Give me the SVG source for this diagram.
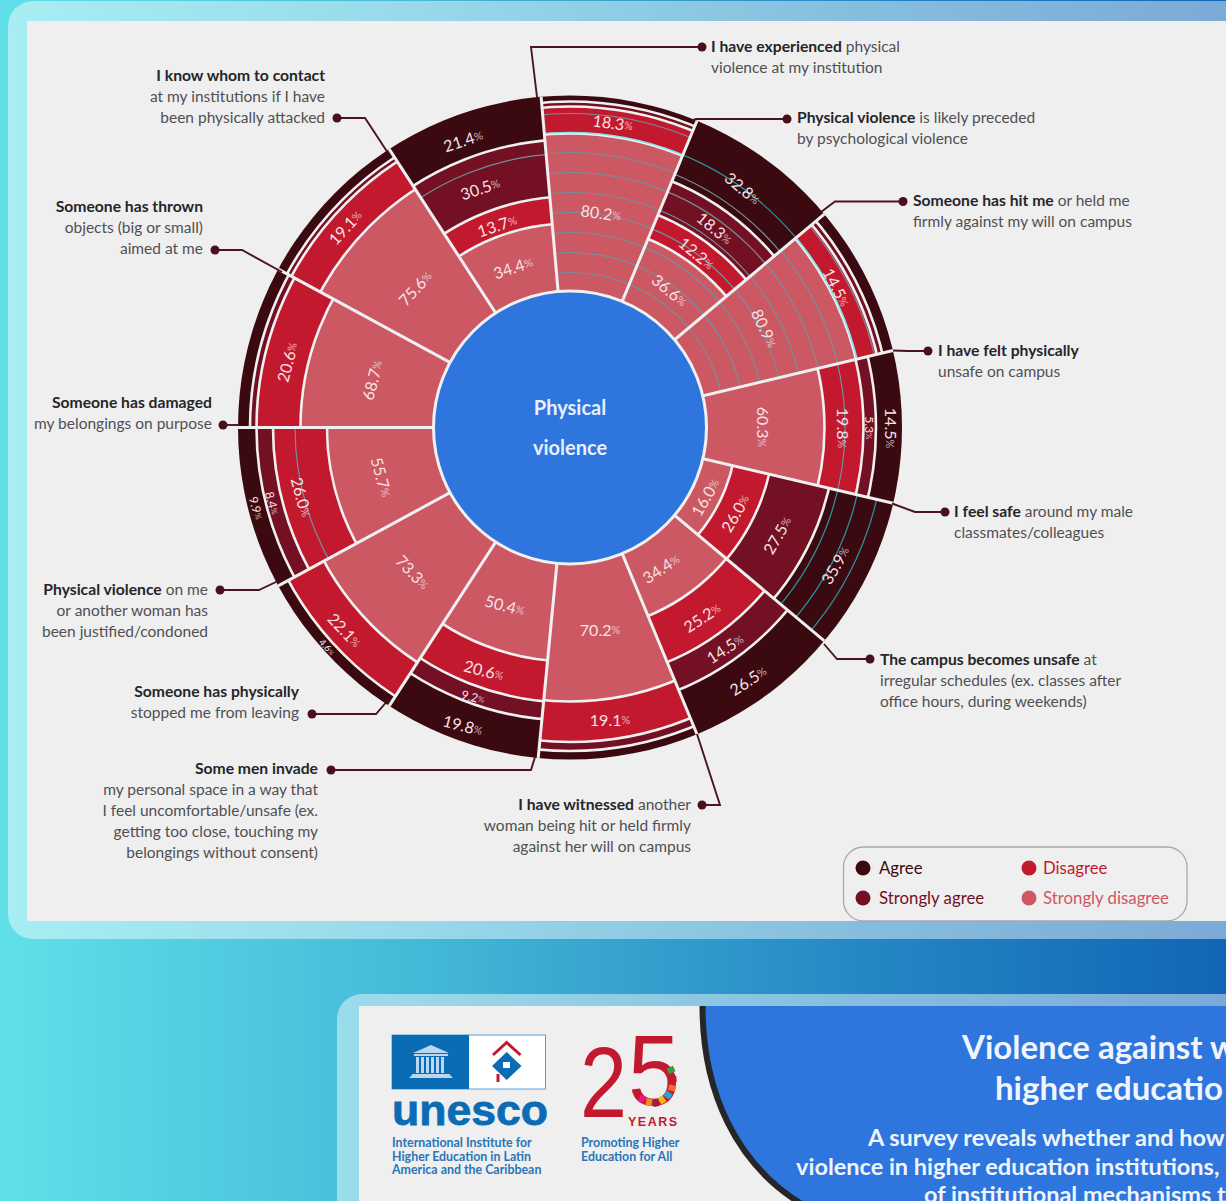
<svg xmlns="http://www.w3.org/2000/svg" width="1226" height="1201" viewBox="0 0 1226 1201">
<style>
text{font-family:Lato,"Open Sans","Liberation Sans",sans-serif}
.t{font-size:15.5px;fill:#505054}
.t tspan.b{font-weight:700;fill:#25252a;font-size:15.7px}
.e{text-anchor:end}
.A{fill:#3a0a10}
.S{fill:#741023;stroke:#f0f0f0;stroke-width:2.6}
.D{fill:#c3192e;stroke:#f0f0f0;stroke-width:2.6}
.P{fill:#cc5864;stroke:#f0f0f0;stroke-width:2.6}
.g{fill:none;stroke:#74909c;stroke-width:1.2}
.c{fill:none;stroke:#7ce6ea;stroke-width:1.6}
.k{fill:none;stroke:#2c8f95;stroke-width:1.3}
.p{font-size:16px;fill:#f6e3e4;text-anchor:middle;dominant-baseline:central}
.s{font-size:12px}
.x{font-size:9.5px}
.p tspan{font-size:.68em;opacity:.72}
.l{fill:none;stroke:#4a1420;stroke-width:1.9}
.d{fill:#4a0f1c}
.lg{font-size:16.8px}
</style>
<defs>
<linearGradient id="bg" x1="0" y1="0" x2="1226" y2="0" gradientUnits="userSpaceOnUse">
<stop offset="0" stop-color="#60e0e8"/><stop offset=".35" stop-color="#44b8d8"/><stop offset=".7" stop-color="#2488c4"/><stop offset="1" stop-color="#1165b6"/>
</linearGradient>
<clipPath id="tp"><rect x="359" y="1006" width="867" height="195"/></clipPath>
<clipPath id="w1"><polygon points="0,0 -39.2,-448.3 172.2,-415.8"/></clipPath>
<clipPath id="w2"><polygon points="0,0 172.2,-415.8 344.7,-289.3"/></clipPath>
<clipPath id="w3"><polygon points="0,0 344.7,-289.3 437.8,-104.3"/></clipPath>
<clipPath id="w4"><polygon points="0,0 437.8,-104.3 438.1,102.8"/></clipPath>
<clipPath id="w5"><polygon points="0,0 438.1,102.8 344.7,289.3"/></clipPath>
<clipPath id="w6"><polygon points="0,0 344.7,289.3 172.2,415.8"/></clipPath>
<clipPath id="w7"><polygon points="0,0 172.2,415.8 -43.1,447.9"/></clipPath>
<clipPath id="w8"><polygon points="0,0 -43.1,447.9 -245.1,377.4"/></clipPath>
<clipPath id="w9"><polygon points="0,0 -245.1,377.4 -395.5,214.7"/></clipPath>
<clipPath id="w10"><polygon points="0,0 -395.5,214.7 -450,0"/></clipPath>
<clipPath id="w11"><polygon points="0,0 -450,0 -395.5,-214.7"/></clipPath>
<clipPath id="w12"><polygon points="0,0 -395.5,-214.7 -245.1,-377.4"/></clipPath>
<clipPath id="w13"><polygon points="0,0 -245.1,-377.4 -39.2,-448.3"/></clipPath>
</defs>

<rect width="1226" height="1201" fill="url(#bg)"/>
<rect x="8" y="1" width="1250" height="938" rx="25" fill="#fff" fill-opacity=".45"/>
<rect x="27" y="21" width="1199" height="900" fill="#efefef"/>
<rect x="337" y="994" width="920" height="240" rx="25" fill="#fff" fill-opacity=".45"/>
<rect x="359" y="1006" width="867" height="195" fill="#efefef"/>

<g id="node-experienced">
<g clip-path="url(#w1)" transform="translate(570 427.5)">
<circle r="332" class="A"/><circle r="326" class="S"/><circle r="321" class="D"/><circle r="294" class="P"/>
<circle r="155" class="g"/><circle r="175" class="g"/><circle r="195" class="g"/><circle r="215" class="g"/><circle r="235" class="g"/><circle r="255" class="g"/><circle r="275" class="g"/><circle r="295" class="c"/><circle r="314" class="g"/>
</g>
<text class="p" transform="translate(613 122.500) rotate(8)">18.3<tspan>%</tspan></text>
<text class="p" transform="translate(601 212.500) rotate(8)">80.2<tspan>%</tspan></text>
<text class="t" x="711" y="52"><tspan class="b">I have experienced</tspan> physical</text>
<text class="t" x="711" y="73">violence at my institution</text>
</g>

<g id="node-psychological">
<g clip-path="url(#w2)" transform="translate(570 427.5)">
<circle r="332" class="A"/><circle r="266.500" class="S"/><circle r="230" class="D"/><circle r="204" class="P"/>
<circle r="155" class="g"/><circle r="175" class="g"/><circle r="195" class="g"/><circle r="215" class="g"/><circle r="235" class="g"/><circle r="255" class="g"/><circle r="274" class="g"/><circle r="295" class="k"/>
</g>
<text class="p" transform="translate(743 188) rotate(40)">32.8<tspan>%</tspan></text>
<text class="p" transform="translate(715 228) rotate(40)">18.3<tspan>%</tspan></text>
<text class="p" transform="translate(697 253) rotate(40)">12.2<tspan>%</tspan></text>
<text class="p" transform="translate(670 290) rotate(40)">36.6<tspan>%</tspan></text>
<text class="t" x="797" y="123"><tspan class="b">Physical violence</tspan> is likely preceded</text>
<text class="t" x="797" y="144">by psychological violence</text>
</g>

<g id="node-hit">
<g clip-path="url(#w3)" transform="translate(570 427.5)">
<circle r="332" class="A"/><circle r="321" class="S"/><circle r="315.500" class="D"/><circle r="294" class="P"/>
<circle r="155" class="g"/><circle r="175" class="g"/><circle r="195" class="g"/><circle r="215" class="g"/><circle r="235" class="g"/><circle r="255" class="g"/><circle r="275" class="g"/><circle r="295" class="c"/><circle r="313" class="g"/>
</g>
<text class="p" transform="translate(837 287) rotate(63)">14.5<tspan>%</tspan></text>
<text class="p" transform="translate(765 328) rotate(65)">80.9<tspan>%</tspan></text>
<text class="t" x="913" y="206"><tspan class="b">Someone has hit me</tspan> or held me</text>
<text class="t" x="913" y="227">firmly against my will on campus</text>
</g>

<g id="node-felt-unsafe">
<g clip-path="url(#w4)" transform="translate(570 427.5)">
<circle r="332" class="A"/><circle r="306" class="S"/><circle r="293.500" class="D"/><circle r="254.500" class="P"/>
<circle r="275" class="g"/>
</g>
<text class="p" transform="translate(891 428) rotate(90)">14.5<tspan>%</tspan></text>
<text class="p s" transform="translate(869 428) rotate(90)">5.3<tspan>%</tspan></text>
<text class="p" transform="translate(843 428) rotate(90)">19.8<tspan>%</tspan></text>
<text class="p" transform="translate(763 427) rotate(90)">60.3<tspan>%</tspan></text>
<text class="t" x="938" y="356"><tspan class="b">I have felt physically</tspan></text>
<text class="t" x="938" y="377">unsafe on campus</text>
</g>

<g id="node-feel-safe">
<g clip-path="url(#w5)" transform="translate(570 427.5)">
<circle r="332" class="A"/><circle r="266" class="S"/><circle r="204.500" class="D"/><circle r="167" class="P"/>
<circle r="275" class="k"/><circle r="295" class="k"/><circle r="315" class="k"/>
</g>
<text class="p" transform="translate(835 565) rotate(-60)">35.9<tspan>%</tspan></text>
<text class="p" transform="translate(777 535) rotate(-60)">27.5<tspan>%</tspan></text>
<text class="p" transform="translate(735 513) rotate(-60)">26.0<tspan>%</tspan></text>
<text class="p" transform="translate(705 497) rotate(-60)">16.0<tspan>%</tspan></text>
<text class="t" x="954" y="517"><tspan class="b">I feel safe</tspan> around my male</text>
<text class="t" x="954" y="538">classmates/colleagues</text>
</g>

<g id="node-irregular">
<g clip-path="url(#w6)" transform="translate(570 427.5)">
<circle r="332" class="A"/><circle r="284" class="S"/><circle r="254" class="D"/><circle r="204" class="P"/>
</g>
<text class="p" transform="translate(748 680) rotate(-33)">26.5<tspan>%</tspan></text>
<text class="p" transform="translate(725 648) rotate(-33)">14.5<tspan>%</tspan></text>
<text class="p" transform="translate(702 617) rotate(-33)">25.2<tspan>%</tspan></text>
<text class="p" transform="translate(661 568) rotate(-33)">34.4<tspan>%</tspan></text>
<text class="t" x="880" y="665"><tspan class="b">The campus becomes unsafe</tspan> at</text>
<text class="t" x="880" y="686">irregular schedules (ex. classes after</text>
<text class="t" x="880" y="707">office hours, during weekends)</text>
</g>

<g id="node-witnessed">
<g clip-path="url(#w7)" transform="translate(570 427.5)">
<circle r="332" class="A"/><circle r="323.500" class="S"/><circle r="314.500" class="D"/><circle r="274" class="P"/>
</g>
<text class="p" transform="translate(610 719)">19.1<tspan>%</tspan></text>
<text class="p" transform="translate(600 629)">70.2<tspan>%</tspan></text>
<text class="t e" x="691" y="810"><tspan class="b">I have witnessed</tspan> another</text>
<text class="t e" x="691" y="831">woman being hit or held firmly</text>
<text class="t e" x="691" y="852">against her will on campus</text>
</g>

<g id="node-invade">
<g clip-path="url(#w8)" transform="translate(570 427.5)">
<circle r="332" class="A"/><circle r="293" class="S"/><circle r="275" class="D"/><circle r="234" class="P"/>
</g>
<text class="p" transform="translate(463 725) rotate(15)">19.8<tspan>%</tspan></text>
<text class="p s" transform="translate(473 697) rotate(15)">9.2<tspan>%</tspan></text>
<text class="p" transform="translate(484 670) rotate(15)">20.6<tspan>%</tspan></text>
<text class="p" transform="translate(505 605) rotate(15)">50.4<tspan>%</tspan></text>
<text class="t e" x="318" y="774"><tspan class="b">Some men invade</tspan></text>
<text class="t e" x="318" y="795">my personal space in a way that</text>
<text class="t e" x="318" y="816">I feel uncomfortable/unsafe (ex.</text>
<text class="t e" x="318" y="837">getting too close, touching my</text>
<text class="t e" x="318" y="858">belongings without consent)</text>
</g>

<g id="node-stopped">
<g clip-path="url(#w9)" transform="translate(570 427.5)">
<circle r="332" class="A"/><circle r="320.500" class="D"/><circle r="280" class="P"/>
</g>
<text class="p x" transform="translate(327 647) rotate(47)">4.6<tspan>%</tspan></text>
<text class="p" transform="translate(345 630) rotate(47)">22.1<tspan>%</tspan></text>
<text class="p" transform="translate(413 572) rotate(47)">73.3<tspan>%</tspan></text>
<text class="t e" x="299" y="697"><tspan class="b">Someone has physically</tspan></text>
<text class="t e" x="299" y="718">stopped me from leaving</text>
</g>

<g id="node-justified">
<g clip-path="url(#w10)" transform="translate(570 427.5)">
<circle r="332" class="A"/><circle r="313.500" class="S"/><circle r="297" class="D"/><circle r="243" class="P"/>
<circle r="275" class="g"/>
</g>
<text class="p s" transform="translate(256 508) rotate(75)">9.9<tspan>%</tspan></text>
<text class="p s" transform="translate(272 503) rotate(75)">8.4<tspan>%</tspan></text>
<text class="p" transform="translate(302 497) rotate(75)">26.0<tspan>%</tspan></text>
<text class="p" transform="translate(382 477) rotate(75)">55.7<tspan>%</tspan></text>
<text class="t e" x="208" y="595"><tspan class="b">Physical violence</tspan> on me</text>
<text class="t e" x="208" y="616">or another woman has</text>
<text class="t e" x="208" y="637">been justified/condoned</text>
</g>

<g id="node-damaged">
<g clip-path="url(#w11)" transform="translate(570 427.5)">
<circle r="332" class="A"/><circle r="320" class="S"/><circle r="313.500" class="D"/><circle r="269.500" class="P"/>
</g>
<text class="p" transform="translate(287 362) rotate(-75)">20.6<tspan>%</tspan></text>
<text class="p" transform="translate(372 380) rotate(-75)">68.7<tspan>%</tspan></text>
<text class="t e" x="212" y="408"><tspan class="b">Someone has damaged</tspan></text>
<text class="t e" x="212" y="429">my belongings on purpose</text>
</g>

<g id="node-thrown">
<g clip-path="url(#w12)" transform="translate(570 427.5)">
<circle r="332" class="A"/><circle r="322" class="S"/><circle r="317" class="D"/><circle r="284" class="P"/>
</g>
<text class="p" transform="translate(345 227) rotate(-47)">19.1<tspan>%</tspan></text>
<text class="p" transform="translate(415 288) rotate(-47)">75.6<tspan>%</tspan></text>
<text class="t e" x="203" y="212"><tspan class="b">Someone has thrown</tspan></text>
<text class="t e" x="203" y="233">objects (big or small)</text>
<text class="t e" x="203" y="254">aimed at me</text>
</g>

<g id="node-contact">
<g clip-path="url(#w13)" transform="translate(570 427.5)">
<circle r="332" class="A"/><circle r="288" class="S"/><circle r="231" class="D"/><circle r="204" class="P"/>
<circle r="274" class="g"/>
</g>
<text class="p" transform="translate(463 140) rotate(-18)">21.4<tspan>%</tspan></text>
<text class="p" transform="translate(480 188) rotate(-18)">30.5<tspan>%</tspan></text>
<text class="p" transform="translate(497 225) rotate(-18)">13.7<tspan>%</tspan></text>
<text class="p" transform="translate(513 267) rotate(-18)">34.4<tspan>%</tspan></text>
<text class="t e" x="325" y="81"><tspan class="b">I know whom to contact</tspan></text>
<text class="t e" x="325" y="102">at my institutions if I have</text>
<text class="t e" x="325" y="123">been physically attacked</text>
</g>

<g id="spokes" transform="translate(570 427.5)" fill="none" stroke="#f0f0f0" stroke-width="3">
<path d="M0 0L-28.9 -330.7M0 0L127 -306.8M0 0L254.3 -213.4M0 0L323 -77M0 0L323.2 75.8M0 0L254.3 213.4M0 0L127 306.8M0 0L-31.800 330.500M0 0L-180.800 278.400M0 0L-291.800 158.400M0 0L-332 0M0 0L-291.800 -158.400M0 0L-180.800 -278.400"/>
</g>

<g id="node-center">
<circle cx="570" cy="427.500" r="136.500" fill="#2e75de" stroke="#f0f0f0" stroke-width="3"/>
<text x="570" y="415" text-anchor="middle" font-size="20" font-weight="700" fill="#e8f0fb">Physical</text>
<text x="570" y="455" text-anchor="middle" font-size="20" font-weight="700" fill="#e8f0fb">violence</text>
</g>

<g id="connectors">
<path class="l" d="M702 47H531L537 97"/><circle class="d" cx="702" cy="47" r="4.500"/>
<path class="l" d="M787 119H696L692 120.500"/><circle class="d" cx="787" cy="119" r="4.500"/>
<path class="l" d="M903 201.500H835L821 212"/><circle class="d" cx="903" cy="201.500" r="4.500"/>
<path class="l" d="M928 351H908L893 350.500"/><circle class="d" cx="928" cy="351" r="4.500"/>
<path class="l" d="M945 512H915L892 503.500"/><circle class="d" cx="945" cy="512" r="4.500"/>
<path class="l" d="M870 659H837L824 644"/><circle class="d" cx="870" cy="659" r="4.500"/>
<path class="l" d="M702 805H720L697 734"/><circle class="d" cx="702" cy="805" r="4.500"/>
<path class="l" d="M331 770H531L535 757"/><circle class="d" cx="331" cy="770" r="4.500"/>
<path class="l" d="M312 714H376L389 699"/><circle class="d" cx="312" cy="714" r="4.500"/>
<path class="l" d="M220 590H259L278 581"/><circle class="d" cx="220" cy="590" r="4.500"/>
<path class="l" d="M223 425H238"/><circle class="d" cx="223" cy="425" r="4.500"/>
<path class="l" d="M215 250H242L282 272"/><circle class="d" cx="215" cy="250" r="4.500"/>
<path class="l" d="M337 118H365L388 153"/><circle class="d" cx="337" cy="118" r="4.500"/>
</g>

<g id="legend">
<rect x="843.500" y="847" width="343.500" height="74" rx="20" fill="#efefef" stroke="#a8a8aa" stroke-width="1.300"/>
<circle cx="863" cy="868" r="7.500" fill="#3a0a10"/><text class="lg" x="879" y="874" fill="#3a0a10">Agree</text>
<circle cx="863" cy="898" r="7.500" fill="#741023"/><text class="lg" x="879" y="903.500" fill="#741023">Strongly agree</text>
<circle cx="1029" cy="868" r="7.500" fill="#c3192e"/><text class="lg" x="1043" y="874" fill="#c3192e">Disagree</text>
<circle cx="1029" cy="898" r="7.500" fill="#cc5864"/><text class="lg" x="1043" y="903.500" fill="#cc5864">Strongly disagree</text>
</g>

<g id="unesco-logo">
<rect x="392" y="1035" width="153.500" height="54" fill="#fff" stroke="#5c9ed2" stroke-width="1"/>
<rect x="392" y="1035" width="77" height="54" fill="#0a6cb5"/>
<g fill="#b9d7ee">
<polygon points="413,1053 431,1045 449,1053"/><rect x="414" y="1054" width="34" height="2"/>
<rect x="416" y="1057" width="3" height="16"/><rect x="421" y="1057" width="3" height="16"/><rect x="426" y="1057" width="3" height="16"/><rect x="431" y="1057" width="3" height="16"/><rect x="436" y="1057" width="3" height="16"/><rect x="441" y="1057" width="3" height="16"/>
<rect x="412" y="1074" width="38" height="2"/><polygon points="409,1078 453,1078 450,1075 412,1075"/>
</g>
<path d="M493 1055L506.700 1042.500L520.500 1055" fill="none" stroke="#c3192e" stroke-width="3"/>
<polygon points="506.700,1052 521.500,1066 506.700,1080 492,1066" fill="#0a6cb5"/>
<path d="M498 1074V1082" fill="none" stroke="#c3192e" stroke-width="3"/>
<rect x="503" y="1062" width="7" height="6" fill="#fff"/>
<text x="392" y="1125" font-size="42" font-weight="700" fill="#0a6cb5" stroke="#0a6cb5" stroke-width=".8" textLength="156" lengthAdjust="spacingAndGlyphs" style="font-family:'Liberation Sans',sans-serif">unesco</text>
<g font-size="12.400" font-weight="700" fill="#2a74b8">
<text x="392" y="1147">International Institute for</text>
<text x="392" y="1160.500">Higher Education in Latin</text>
<text x="392" y="1174">America and the Caribbean</text>
</g>
</g>

<g id="anniversary-logo">
<text x="580" y="1117" font-size="100" fill="#c3192e" textLength="47" lengthAdjust="spacingAndGlyphs" style="font-family:'Liberation Sans',sans-serif">2</text>
<text x="628" y="1105" font-size="100" fill="#c3192e" textLength="52" lengthAdjust="spacingAndGlyphs" style="font-family:'Liberation Sans',sans-serif">5</text>
<g>
<rect x="-3" y="-3.500" width="6" height="7" fill="#3f9b3f" transform="translate(671 1070) rotate(65)"/>
<rect x="-3" y="-3.500" width="6" height="7" fill="#c3192e" transform="translate(673 1079) rotate(85)"/>
<rect x="-3" y="-3.500" width="6" height="7" fill="#f26a2e" transform="translate(672 1088) rotate(105)"/>
<rect x="-3" y="-3.500" width="6" height="7" fill="#27a5d8" transform="translate(668 1095) rotate(125)"/>
<rect x="-3" y="-3.500" width="6" height="7" fill="#f5b81e" transform="translate(662 1100) rotate(145)"/>
<rect x="-3" y="-3.500" width="6" height="7" fill="#a11c3d" transform="translate(656 1103) rotate(170)"/>
<rect x="-3" y="-3.500" width="6" height="7" fill="#f08a24" transform="translate(649 1102) rotate(190)"/>
<rect x="-3" y="-3.500" width="6" height="7" fill="#e5168a" transform="translate(642 1099) rotate(210)"/>
</g>
<text x="628" y="1126" font-size="12.500" font-weight="700" letter-spacing="1.500" fill="#c3192e" style="font-family:'Liberation Sans',sans-serif">YEARS</text>
<g font-size="12.400" font-weight="700" fill="#2a74b8">
<text x="581" y="1147">Promoting Higher</text>
<text x="581" y="1160.500">Education for All</text>
</g>
</g>

<g id="title-panel">
<path clip-path="url(#tp)" d="M702.500 990V1006C702.500 1090 735 1165 805 1206H1260V990Z" fill="#2e75de" stroke="#262626" stroke-width="6"/>
<g fill="#f0f5fd" font-weight="700">
<text x="962" y="1059" font-size="33">Violence against w</text>
<text x="995" y="1100" font-size="33">higher educatio</text>
<text x="868" y="1146" font-size="23.500">A survey reveals whether and how</text>
<text x="796" y="1175" font-size="23.500">violence in higher education institutions,</text>
<text x="924" y="1203" font-size="23.500">of institutional mechanisms t</text>
</g>
</g>
</svg>
